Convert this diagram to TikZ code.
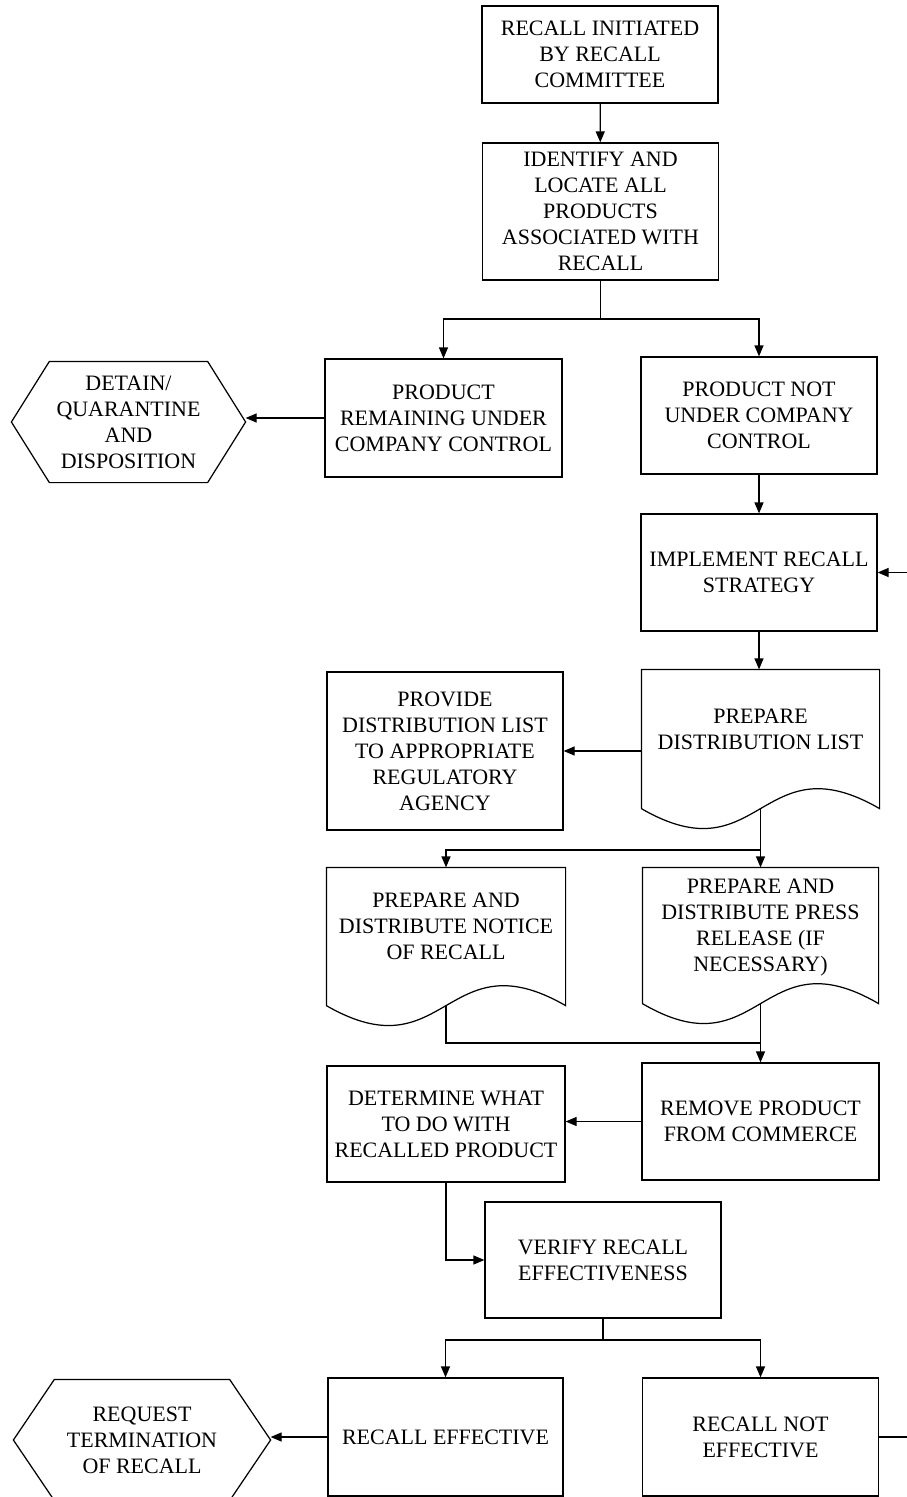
\documentclass[tikz,border=0pt]{standalone}
\usepackage{fontspec}
\setmainfont{Liberation Serif}
\usetikzlibrary{arrows.meta,calc}

\begin{document}
\begin{tikzpicture}[
		box/.style={draw, line width=0.7pt, align=center, inner sep=2pt, minimum width=4.72cm, minimum height=2.34cm},
		docbox/.style={align=center, inner sep=2pt, text depth=0.4cm, minimum width=4.72cm, minimum height=2.74cm},
		hexbox/.style={align=center, inner sep=2pt, minimum width=4.66cm, minimum height=2.4cm},
		arr/.style={-{Triangle[length=2.2mm, width=1.8mm]}},
		every node/.style={font=\fontsize{12.5}{14.8}\selectfont},
		line width=0.7pt
	]
	\useasboundingbox (0,0) rectangle (18.14,-29.94);
	\clip (0,0) rectangle (18.14,-29.94);

	% Начало
	\node[box, minimum height=1.94cm] (init) at (12.00,-1.09) {RECALL INITIATED\\BY RECALL\\COMMITTEE};
	\node[box, minimum height=2.74cm] (ident) at (12.01,-4.23) {IDENTIFY AND\\LOCATE ALL\\PRODUCTS\\ASSOCIATED WITH\\RECALL};

	% Две ветви
	\node[box, minimum width=4.74cm, minimum height=2.36cm] (remain) at (8.87,-8.36) {PRODUCT\\REMAINING UNDER\\COMPANY CONTROL};
	\node[box] (notunder) at (15.18,-8.31) {PRODUCT NOT\\UNDER COMPANY\\CONTROL};
	\node[hexbox] (detain) at (2.57,-8.44) {DETAIN/\\QUARANTINE\\AND\\DISPOSITION};

	% Отзыв
	\node[box] (implement) at (15.18,-11.45) {IMPLEMENT RECALL\\STRATEGY};
	\node[docbox, minimum width=4.74cm, minimum height=2.76cm] (distlist) at (15.21,-14.78) {PREPARE\\DISTRIBUTION LIST};
	\node[box, minimum height=3.16cm] (provide) at (8.90,-15.02) {PROVIDE\\DISTRIBUTION LIST\\TO APPROPRIATE\\REGULATORY\\AGENCY};
	\node[docbox, minimum width=4.76cm] (notice) at (8.92,-18.73) {PREPARE AND\\DISTRIBUTE NOTICE\\OF RECALL};
	\node[docbox, minimum width=4.70cm, minimum height=2.70cm] (press) at (15.21,-18.71) {PREPARE AND\\DISTRIBUTE PRESS\\RELEASE (IF\\NECESSARY)};
	\node[box, minimum width=4.74cm] (remove) at (15.21,-22.43) {REMOVE PRODUCT\\FROM COMMERCE};
	\node[box, minimum width=4.76cm, minimum height=2.32cm] (determine) at (8.92,-22.48) {DETERMINE WHAT\\TO DO WITH\\RECALLED PRODUCT};
	\node[box, minimum height=2.32cm] (verify) at (12.06,-25.20) {VERIFY RECALL\\EFFECTIVENESS};

	% Итог
	\node[box, minimum width=4.70cm, minimum height=2.36cm] (effective) at (8.91,-28.74) {RECALL EFFECTIVE};
	\node[box, minimum height=2.36cm] (noteff) at (15.21,-28.74) {RECALL NOT\\EFFECTIVE};
	\node[hexbox, minimum width=5.12cm] (request) at (2.84,-28.80) {REQUEST\\TERMINATION\\OF RECALL};

	% Контуры документов и шестиугольников
	\foreach \n in {distlist, notice, press}
		\draw (\n.south west) -- (\n.north west) -- (\n.north east) -- (\n.south east)
			.. controls ($(\n.south)+(0,1.38)$) and ($(\n.south)+(0,-1.38)$) .. (\n.south west);
	\foreach \h/\d in {detain/0.76, request/0.82}
		\draw (\h.west) -- ([xshift=\d cm]\h.north west) -- ([xshift=-\d cm]\h.north east) -- (\h.east)
			-- ([xshift=-\d cm]\h.south east) -- ([xshift=\d cm]\h.south west) -- cycle;

	% Точки ветвления
	\coordinate (s1) at (12.01,-6.38);
	\coordinate (s2) at (15.21,-17.00);
	\coordinate (m) at (15.21,-20.86);
	\coordinate (s3) at (12.06,-26.80);
	\coordinate (fb) at (18.30,0);

	% Связи
	\draw[arr] (init) -- (ident);
	\draw (ident.south) -- (s1);
	\draw[arr] (s1) -| (remain.north);
	\draw[arr] (s1) -| (notunder.north);
	\draw[arr] (remain.west) -- (remain.west -| detain.east);
	\draw[arr] (notunder) -- (implement);
	\draw[arr] (implement.south) -- (implement.south |- distlist.north);
	\draw[arr] (provide.east -| distlist.west) -- (provide.east);
	\draw (distlist.south) -- (s2);
	\draw[arr] (s2) -| (notice.north);
	\draw[arr] (s2) -- (press.north);
	\draw (notice.south) |- (m);
	\draw[arr] (press.south) -- (remove.north);
	\draw[arr] (remove.west) -- (remove.west -| determine.east);
	\draw[arr] (determine.south) |- (verify.west);
	\draw (verify.south) -- (s3);
	\draw[arr] (s3) -| (effective.north);
	\draw[arr] (s3) -| (noteff.north);
	\draw[arr] (effective.west) -- (effective.west -| request.east);
	\draw[arr] (noteff.east) -| (fb |- implement.east) -- (implement.east);
\end{tikzpicture}
\end{document}
